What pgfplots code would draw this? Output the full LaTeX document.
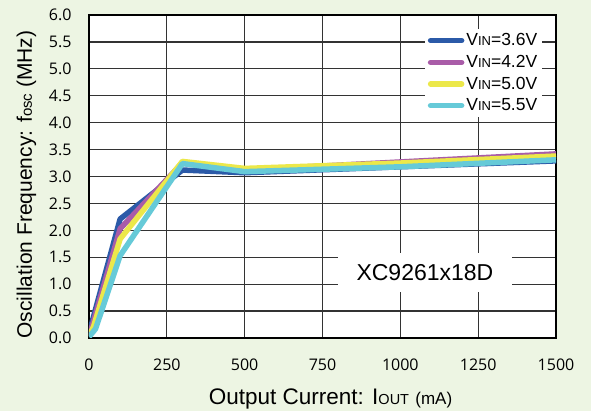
\documentclass[border=0pt]{standalone}
\usepackage{pgfplots}
\pgfplotsset{compat=1.18}
\usepackage{fontspec}
\setmainfont{Liberation Sans}
\newfontfamily\tickfont{Open Sans}
\usetikzlibrary{backgrounds}
\definecolor{bgc}{RGB}{237,245,227}
\definecolor{c36}{RGB}{43,90,168}
\definecolor{c42}{RGB}{169,92,168}
\definecolor{c50}{RGB}{236,232,74}
\definecolor{c55}{RGB}{102,202,216}
\begin{document}
\begin{tikzpicture}
\useasboundingbox (-89pt,-73pt) rectangle (502pt,338pt);
\begin{axis}[
  at={(0pt,0pt)}, anchor=south west,
  scale only axis, width=467pt, height=323pt,
  xmin=0, xmax=1500, ymin=0, ymax=6,
  xtick={0,250,...,1500}, ytick={0,0.5,...,6.0},
  scaled ticks=false,
  /pgf/number format/assume math mode=true,
  /pgf/number format/1000 sep={},
  yticklabel style={/pgf/number format/fixed,/pgf/number format/fixed zerofill,/pgf/number format/precision=1, xshift=-14pt},
  xticklabel style={yshift=-17pt},
  tick label style={font=\tickfont\fontsize{16}{18}\selectfont},
  major tick length=0pt,
  grid=major,
  major grid style={black!80, line width=1.2pt},
  axis line style={black, line width=1.6pt},
  axis background/.style={fill=white},
  xlabel={Output Current: I{\fontsize{14.5}{16}\selectfont OUT} {\fontsize{17}{18}\selectfont(mA)}},
  ylabel={Oscillation Frequency: f{\fontsize{15}{16}\selectfont osc} (MHz)},
  label style={font=\fontsize{21}{24}\selectfont},
  xlabel style={font=\fontsize{22.5}{24}\selectfont, at={([xshift=8pt,yshift=-67pt]axis description cs:0.5,0)}, anchor=base},
  ylabel style={at={([xshift=-57pt,yshift=-8pt]axis description cs:0,0.5)}, anchor=base},
  legend style={at={(axis description cs:0.971,0.958)}, anchor=north east, draw=none, fill=white,
    font=\fontsize{17.5}{19}\selectfont, row sep=4pt, inner xsep=3pt, inner ysep=3pt},
  legend cell align=left,
  legend image code/.code={\draw[#1, line cap=round] (0pt,0pt) -- (31pt,0pt);},
  every axis plot/.append style={line width=5.5pt, line join=round, no markers},
]
\addplot[c36] coordinates {(0,0.04) (10,0.30) (100,2.21) (300,3.12) (500,3.07) (1000,3.18) (1500,3.29)};
\addlegendentry{V{\fontsize{13}{12}\selectfont IN}=3.6V}
\addplot[c42] coordinates {(0,0.04) (12,0.26) (100,2.03) (300,3.25) (500,3.12) (1000,3.27) (1500,3.42)};
\addlegendentry{V{\fontsize{13}{12}\selectfont IN}=4.2V}
\addplot[c50] coordinates {(0,0.03) (15,0.22) (100,1.84) (300,3.28) (500,3.15) (1000,3.25) (1500,3.38)};
\addlegendentry{V{\fontsize{13}{12}\selectfont IN}=5.0V}
\addplot[c55] coordinates {(0,0.02) (21,0.17) (100,1.53) (300,3.24) (500,3.09) (1000,3.18) (1500,3.31)};
\addlegendentry{V{\fontsize{13}{12}\selectfont IN}=5.5V}
\node[fill=white, minimum width=174pt, minimum height=39pt, inner sep=0pt, font=\fontsize{23}{26}\selectfont] at (axis cs:1079,1.22) {XC9261x18D};
\end{axis}
\begin{scope}[on background layer]
\fill[bgc] (-89pt,-73pt) rectangle (502pt,338pt);
\end{scope}
\end{tikzpicture}
\end{document}
